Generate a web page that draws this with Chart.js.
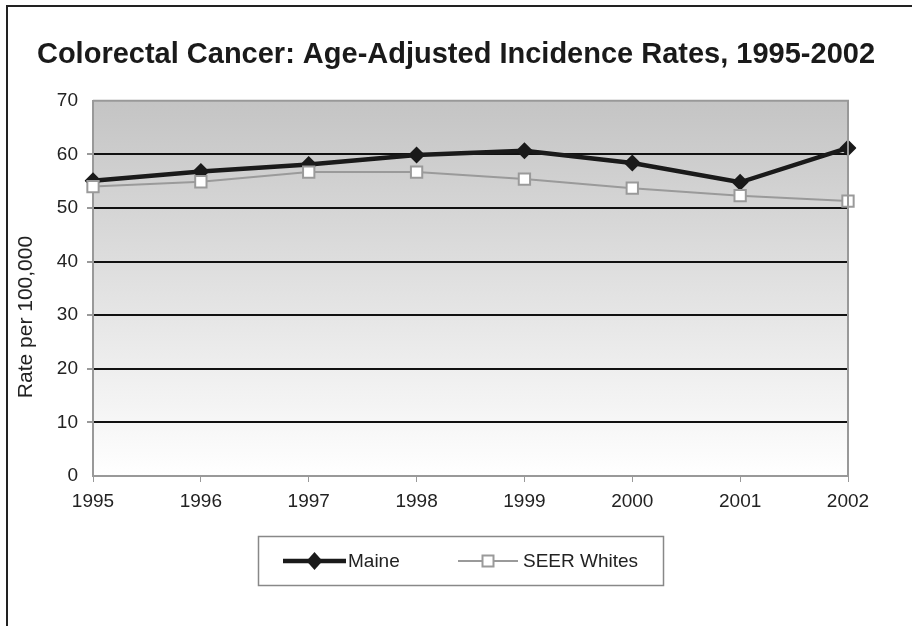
<!DOCTYPE html>
<html lang="en">
<head>
    <meta charset="UTF-8">
    <title>Colorectal Cancer: Age-Adjusted Incidence Rates, 1995-2002</title>
    <script src="https://cdn.jsdelivr.net/npm/chart.js"></script>
    <style>
        body {
            margin: 0;
            background-color: white;
        }

        #wrap {
            position: relative;
            width: 912px;
            height: 626px;
        }

        #frame {
            position: absolute;
            left: 6px;
            top: 5px;
            width: 920px;
            height: 640px;
            border-left: 2px solid #222;
            border-top: 2px solid #222;
            pointer-events: none;
        }
    </style>
</head>
<body>

    <div id="wrap">
        <canvas id="rateChart" width="912" height="626"></canvas>
        <div id="frame"></div>
    </div>

    <script>
        // data
        const years = ['1995', '1996', '1997', '1998', '1999', '2000', '2001', '2002'];
        const maine = [55.1, 56.8, 58.1, 59.9, 60.7, 58.4, 54.8, 61.2];
        const seerWhites = [54.0, 54.9, 56.7, 56.7, 55.4, 53.7, 52.3, 51.3];
        const yTickValues = [0, 10, 20, 30, 40, 50, 60, 70];

        const FONT = '"Liberation Sans", Arial, sans-serif';

        // plot background gradient + frame around the plot area
        const plotBackground = {
            id: 'plotBackground',
            beforeDraw(chart) {
                const { ctx, chartArea: a } = chart;
                const g = ctx.createLinearGradient(0, a.top, 0, a.bottom);
                g.addColorStop(0, '#c4c4c4');
                g.addColorStop(1, '#ffffff');
                ctx.save();
                ctx.fillStyle = g;
                ctx.fillRect(a.left, a.top, a.right - a.left, a.bottom - a.top);
                ctx.restore();
            },
            afterDatasetsDraw(chart) {
                const { ctx, chartArea: a } = chart;
                ctx.save();
                ctx.strokeStyle = '#999';
                ctx.lineWidth = 2;
                ctx.beginPath();
                ctx.moveTo(a.left, a.top);
                ctx.lineTo(a.right, a.top);
                ctx.lineTo(a.right, a.bottom);
                ctx.stroke();
                ctx.restore();
            }
        };

        // rotated y axis title, placed like the original (a bit below centre)
        const yTitle = {
            id: 'yTitle',
            afterDraw(chart) {
                const ctx = chart.ctx;
                ctx.save();
                ctx.translate(26, 317);
                ctx.rotate(-Math.PI / 2);
                ctx.font = '21px ' + FONT;
                ctx.fillStyle = '#222';
                ctx.textAlign = 'center';
                ctx.textBaseline = 'middle';
                ctx.fillText('Rate per 100,000', 0, 0);
                ctx.restore();
            }
        };

        // excel style legend: line with marker inside a box
        const boxLegend = {
            id: 'boxLegend',
            afterDraw(chart) {
                const ctx = chart.ctx;
                const y = 561;
                ctx.save();
                ctx.fillStyle = '#fff';
                ctx.fillRect(258, 536, 405, 49);
                ctx.strokeStyle = '#888';
                ctx.lineWidth = 1.5;
                ctx.strokeRect(258.5, 536.5, 405, 49);

                const items = [
                    { ds: chart.data.datasets[0], x0: 283, x1: 346, tx: 348 },
                    { ds: chart.data.datasets[1], x0: 458, x1: 518, tx: 523 }
                ];
                items.forEach(it => {
                    const ds = it.ds;
                    const cx = (it.x0 + it.x1) / 2;
                    ctx.strokeStyle = ds.borderColor;
                    ctx.lineWidth = ds.borderWidth;
                    ctx.beginPath();
                    ctx.moveTo(it.x0, y);
                    ctx.lineTo(it.x1, y);
                    ctx.stroke();

                    if (ds.pointStyle === 'rectRot') {
                        ctx.fillStyle = ds.pointBackgroundColor;
                        ctx.beginPath();
                        ctx.moveTo(cx, y - 9);
                        ctx.lineTo(cx + 8, y);
                        ctx.lineTo(cx, y + 9);
                        ctx.lineTo(cx - 8, y);
                        ctx.closePath();
                        ctx.fill();
                    } else {
                        ctx.fillStyle = ds.pointBackgroundColor;
                        ctx.strokeStyle = ds.pointBorderColor;
                        ctx.lineWidth = ds.pointBorderWidth;
                        ctx.fillRect(cx - 5.5, y - 5.5, 11, 11);
                        ctx.strokeRect(cx - 5.5, y - 5.5, 11, 11);
                    }

                    ctx.fillStyle = '#222';
                    ctx.font = '19px ' + FONT;
                    ctx.textAlign = 'left';
                    ctx.textBaseline = 'middle';
                    ctx.fillText(ds.label, it.tx, y + 1);
                });
                ctx.restore();
            }
        };

        const ctx = document.getElementById('rateChart').getContext('2d');

        const chart = new Chart(ctx, {
            type: 'line',
            data: {
                labels: years,
                datasets: [
                    {
                        label: 'Maine',
                        data: maine,
                        borderColor: '#1a1a1a',
                        borderWidth: 4.5,
                        pointStyle: 'rectRot',
                        pointRadius: 8.5,
                        pointBackgroundColor: '#1a1a1a',
                        pointBorderColor: '#1a1a1a',
                        pointBorderWidth: 0,
                        tension: 0,
                        order: 1
                    },
                    {
                        label: 'SEER Whites',
                        data: seerWhites,
                        borderColor: '#9a9a9a',
                        borderWidth: 2,
                        pointStyle: 'rect',
                        pointRadius: 8,
                        pointBackgroundColor: '#ffffff',
                        pointBorderColor: '#9a9a9a',
                        pointBorderWidth: 2,
                        tension: 0,
                        order: 0
                    }
                ]
            },
            options: {
                responsive: false,
                animation: false,
                layout: {
                    padding: { left: 0, right: 0, top: 0, bottom: 110 }
                },
                plugins: {
                    legend: { display: false },
                    tooltip: { enabled: false },
                    title: {
                        display: true,
                        text: 'Colorectal Cancer: Age-Adjusted Incidence Rates, 1995-2002',
                        color: '#1a1a1a',
                        font: { family: FONT, size: 29, weight: 'bold' },
                        padding: { top: 38, bottom: 28 }
                    }
                },
                scales: {
                    x: {
                        offset: false,
                        afterFit(scale) { scale.height = 40; },
                        grid: {
                            drawOnChartArea: false,
                            drawTicks: true,
                            tickLength: 6,
                            tickColor: '#999'
                        },
                        border: { display: true, color: '#999', width: 2 },
                        ticks: {
                            color: '#222',
                            padding: 8,
                            maxRotation: 0,
                            font: { family: FONT, size: 19 }
                        }
                    },
                    y: {
                        min: 0,
                        max: 70,
                        afterFit(scale) { scale.width = 93; },
                        afterBuildTicks(scale) {
                            scale.ticks = yTickValues.map(v => ({ value: v }));
                        },
                        grid: {
                            drawTicks: true,
                            tickLength: 6,
                            tickColor: '#999',
                            lineWidth: c => (c.tick.value === 0 || c.tick.value === 70) ? 0 : 2,
                            color: '#111'
                        },
                        border: { display: true, color: '#999', width: 2 },
                        ticks: {
                            color: '#222',
                            padding: 9,
                            font: { family: FONT, size: 19 }
                        }
                    },
                    // empty right-hand axis that only reserves the blank strip on the right
                    yRight: {
                        position: 'right',
                        min: 0,
                        max: 70,
                        afterFit(scale) { scale.width = 64; },
                        grid: { display: false },
                        border: { display: false },
                        ticks: { display: false }
                    }
                }
            },
            plugins: [plotBackground, yTitle, boxLegend]
        });
    </script>

</body>
</html>
